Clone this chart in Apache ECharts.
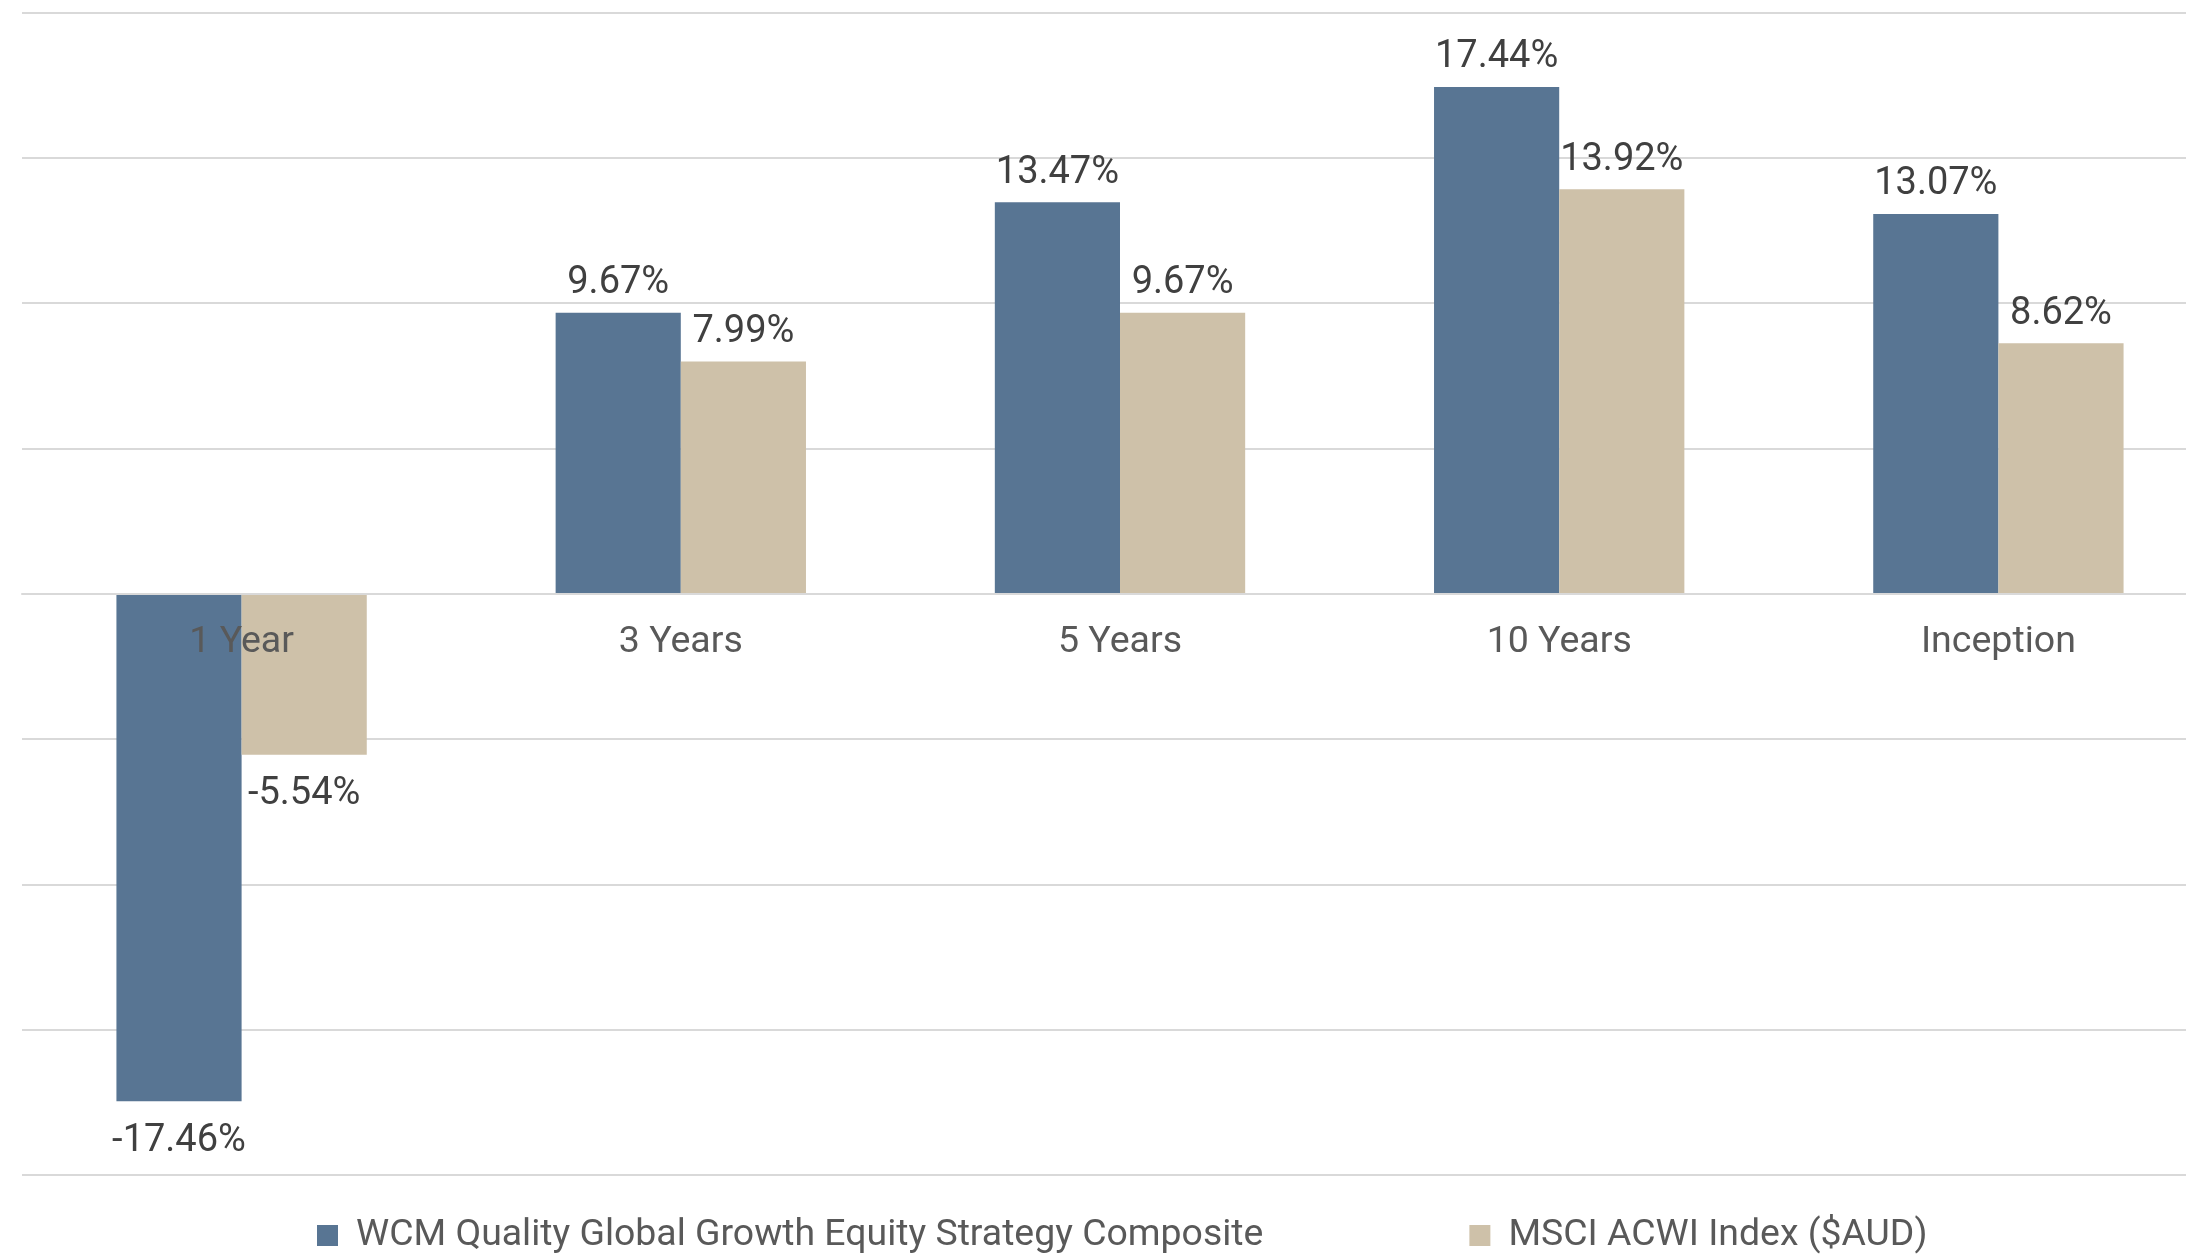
<!DOCTYPE html>
<html>
<head>
<meta charset="utf-8">
<script src="https://cdn.jsdelivr.net/npm/echarts@6/dist/echarts.min.js"></script>
<style>
    html, body { margin: 0; padding: 0; background: #fff; }
    #chart { width: 2186px; height: 1254px; }
</style>
</head>
<body>
<div id="chart"></div>
<script>
var categories = ['1 Year', '3 Years', '5 Years', '10 Years', 'Inception'];
var wcmReturns = [-17.46, 9.67, 13.47, 17.44, 13.07];
var msciReturns = [-5.54, 7.99, 9.67, 13.92, 8.62];
var seriesNames = ['WCM Quality Global Growth Equity Strategy Composite', 'MSCI ACWI Index ($AUD)'];

var myChart = echarts.init(document.getElementById('chart'));

var labelStyle = {
    show: true,
    position: 'top',
    distance: 10,
    fontFamily: 'Roboto',
    fontSize: 38,
    color: '#404040',
    formatter: function (p) { return p.value.toFixed(2) + '%'; }
};

function makeData(values) {
    // negative bars carry their label underneath
    return values.map(function (v) {
        if (v < 0) {
            return { value: v, label: { position: 'bottom', distance: 21 } };
        }
        return v;
    });
}

var gridTop = 12.5, gridBottom = 79;
var plotHeight = 1254 - gridTop - gridBottom;

var option = {
    animation: false,
    textStyle: { fontFamily: 'Roboto' },
    grid: {
        left: 22,
        width: 2196,
        top: gridTop,
        bottom: gridBottom,
        containLabel: false,
        outerBoundsMode: 'none'
    },
    legend: {
        top: 1212,
        left: 312,
        itemWidth: 21,
        itemHeight: 21,
        itemGap: 206,
        icon: 'rect',
        textStyle: { fontFamily: 'Roboto', fontSize: 37.4, color: '#595959', padding: [0, 0, 0, 13] },
        data: seriesNames
    },
    xAxis: {
        type: 'category',
        data: categories,
        z: 10,
        offset: -plotHeight / 2,
        axisLine: { show: true, onZero: false, lineStyle: { color: '#d9d9d9', width: 2 } },
        axisTick: { show: false },
        axisLabel: { fontFamily: 'Roboto', fontSize: 37.5, color: '#595959', margin: 30 }
    },
    yAxis: {
        type: 'value',
        min: -20,
        max: 20,
        interval: 5,
        axisLabel: { show: false },
        axisLine: { show: false },
        axisTick: { show: false },
        splitLine: { lineStyle: { color: '#d9d9d9', width: 2 } }
    },
    series: [
        {
            name: seriesNames[0],
            type: 'bar',
            data: makeData(wcmReturns),
            barGap: '0%',
            barCategoryGap: '43%',
            itemStyle: { color: '#587593' },
            label: labelStyle
        },
        {
            name: seriesNames[1],
            type: 'bar',
            data: makeData(msciReturns),
            itemStyle: { color: '#cec1a9' },
            label: labelStyle
        }
    ]
};

myChart.setOption(option);
</script>
</body>
</html>
